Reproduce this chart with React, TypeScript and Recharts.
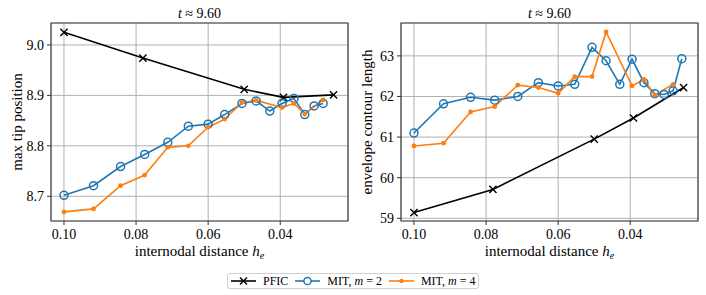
import React from 'react';
import { LineChart, Line, XAxis, YAxis, CartesianGrid, ReferenceArea } from 'recharts';

// ---- data ----
const hPFIC = [0.1, 0.0781, 0.05, 0.0391, 0.0252];
const tipPFIC = [9.025, 8.974, 8.912, 8.896, 8.901];
const lenPFIC = [59.14, 59.71, 60.95, 61.47, 62.22];

const hM2 = [0.1, 0.0918, 0.0843, 0.0776, 0.0712, 0.0655, 0.06, 0.0554, 0.0506, 0.0467, 0.0429, 0.0395, 0.0362, 0.0332, 0.0306, 0.0281, 0.0257];
const tipM2: (number | null)[] = [8.702, 8.721, 8.759, 8.783, 8.807, 8.839, 8.843, 8.862, 8.884, 8.889, 8.869, 8.884, 8.894, 8.862, 8.879, 8.884, null];
const lenM2 = [61.1, 61.82, 61.98, 61.91, 62.0, 62.34, 62.26, 62.3, 63.21, 62.88, 62.3, 62.92, 62.34, 62.07, 62.05, 62.14, 62.93];

const hM4 = [0.1, 0.0918, 0.0843, 0.0776, 0.0712, 0.0655, 0.06, 0.0554, 0.0506, 0.0467, 0.0395, 0.0362, 0.0332, 0.0281];
const tipM4 = [8.669, 8.675, 8.721, 8.742, 8.797, 8.8, 8.837, 8.853, 8.886, 8.89, 8.876, 8.884, 8.863, 8.891];
const lenM4 = [60.78, 60.85, 61.62, 61.75, 62.28, 62.22, 62.08, 62.49, 62.49, 63.59, 62.26, 62.42, 62.03, 62.3];

const xTicks = [0.1, 0.08, 0.06, 0.04];
const xDomain: [number, number] = [0.0212, 0.1036];
const tipTicks = [8.7, 8.8, 8.9, 9.0];
const tipDomain: [number, number] = [8.651, 9.0435];
const lenTicks = [59, 60, 61, 62, 63];
const lenDomain: [number, number] = [58.933, 63.81];

const seriesNames = ['PFIC', 'MIT, m = 2', 'MIT, m = 4'];
const titleText = '9.60';

const FONT = '"Liberation Serif", "DejaVu Serif", serif';
const BLUE = '#1f77b4';
const ORANGE = '#ff7f0e';
const txt: React.CSSProperties = { fontFamily: FONT };

const zip = (xs: number[], ys: (number | null)[]) => xs.map((x, i) => ({ x, y: ys[i] }));

const XDot = (p: any) => {
  const { cx, cy, index } = p;
  if (cx == null || cy == null) return <g key={`x${index}`} />;
  const s = 3.6;
  return (
    <path key={`x${index}`} d={`M${cx - s},${cy - s}L${cx + s},${cy + s}M${cx - s},${cy + s}L${cx + s},${cy - s}`} stroke="#000" strokeWidth={1.4} fill="none" />
  );
};
const ODot = (p: any) => {
  const { cx, cy, index } = p;
  if (cx == null || cy == null) return <g key={`o${index}`} />;
  return <circle key={`o${index}`} cx={cx} cy={cy} r={4} fill="none" stroke={BLUE} strokeWidth={1.5} />;
};
const SDot = (p: any) => {
  const { cx, cy, index } = p;
  if (cx == null || cy == null) return <g key={`s${index}`} />;
  return <circle key={`s${index}`} cx={cx} cy={cy} r={2.4} fill={ORANGE} stroke="none" />;
};

const PLOT_TOP = 23;
const PLOT_BOTTOM = 221;

const TitleLabel = (p: any) => {
  const vb = p.viewBox || { x: 51, width: 297 };
  return (
    <text x={vb.x + vb.width / 2} y={PLOT_TOP - 5} textAnchor="middle" style={{ ...txt, fontSize: 14 }} fill="#000">
      <tspan fontStyle="italic">t</tspan>
      <tspan> ≈ {titleText}</tspan>
    </text>
  );
};

const XLabel = (p: any) => {
  const vb = p.viewBox || { x: 51, width: 297 };
  return (
    <text x={vb.x + vb.width / 2} y={PLOT_BOTTOM + 35} textAnchor="middle" style={{ ...txt, fontSize: 15 }} fill="#000">
      <tspan>internodal distance </tspan>
      <tspan fontStyle="italic">h</tspan>
      <tspan fontStyle="italic" fontSize={10} dy={3}>e</tspan>
    </text>
  );
};

const makeYLabel = (text: string) => () => {
  const cy = (PLOT_TOP + PLOT_BOTTOM) / 2;
  const x = 22;
  return (
    <text x={x} y={cy} textAnchor="middle" style={{ ...txt, fontSize: 15 }} fill="#000" transform={`rotate(-90, ${x}, ${cy})`}>
      {text}
    </text>
  );
};

const XTick = (p: any) => {
  const { x, y, payload } = p;
  return (
    <text x={x} y={y + 10} textAnchor="middle" style={{ ...txt, fontSize: 14 }} fill="#000">
      {Number(payload.value).toFixed(2)}
    </text>
  );
};

const makeYTick = (digits: number) => (p: any) => {
  const { x, y, payload } = p;
  return (
    <text x={x} y={y + 5} textAnchor="end" style={{ ...txt, fontSize: 14 }} fill="#000">
      {Number(payload.value).toFixed(digits)}
    </text>
  );
};

function Panel(props: {
  left: number;
  yDomain: [number, number];
  yTicks: number[];
  yDigits: number;
  yLabel: string;
  pfic: number[];
  m2: (number | null)[];
  m4: number[];
}) {
  const { left, yDomain, yTicks, yDigits, yLabel, pfic, m2, m4 } = props;
  const YL = makeYLabel(yLabel);
  const YT = makeYTick(yDigits);
  return (
    <div style={{ position: 'absolute', left, top: 0 }}>
      <LineChart width={353} height={270} margin={{ top: PLOT_TOP, right: 5, bottom: 19, left: 0 }}>
        <CartesianGrid stroke="#b0b0b0" strokeWidth={1} />
        <XAxis
          type="number"
          dataKey="x"
          domain={xDomain}
          ticks={xTicks}
          reversed
          allowDataOverflow
          height={30}
          axisLine={false}
          tickLine={{ stroke: '#333' }}
          tickSize={4}
          tickMargin={4}
          tick={<XTick />}
          label={<XLabel />}
        />
        <YAxis
          type="number"
          dataKey="y"
          domain={yDomain}
          ticks={yTicks}
          allowDataOverflow
          width={51}
          axisLine={false}
          tickLine={{ stroke: '#333' }}
          tickSize={4}
          tickMargin={3}
          tick={<YT />}
          label={<YL />}
        />
        <Line data={zip(hPFIC, pfic)} dataKey="y" name={seriesNames[0]} stroke="#000" strokeWidth={1.6} dot={XDot} activeDot={false} isAnimationActive={false} />
        <Line data={zip(hM2, m2)} dataKey="y" name={seriesNames[1]} stroke={BLUE} strokeWidth={1.6} dot={ODot} activeDot={false} isAnimationActive={false} />
        <Line data={zip(hM4, m4)} dataKey="y" name={seriesNames[2]} stroke={ORANGE} strokeWidth={1.6} dot={SDot} activeDot={false} isAnimationActive={false} />
        <ReferenceArea
          x1={xDomain[0]}
          x2={xDomain[1]}
          y1={yDomain[0]}
          y2={yDomain[1]}
          fill="none"
          fillOpacity={0}
          stroke="#444"
          strokeWidth={1.2}
          ifOverflow="visible"
          label={<TitleLabel />}
        />
      </LineChart>
    </div>
  );
}

const LegendItem = ({ kind, label }: { kind: number; label: React.ReactNode }) => {
  const color = kind === 0 ? '#000' : kind === 1 ? BLUE : ORANGE;
  return (
    <span style={{ display: 'inline-flex', alignItems: 'center', marginRight: 7 }}>
      <svg width={25} height={10} style={{ marginRight: 7 }}>
        <line x1={0} y1={5} x2={25} y2={5} stroke={color} strokeWidth={1.6} />
        {kind === 0 && <path d="M9,1.5L16,8.5M9,8.5L16,1.5" stroke="#000" strokeWidth={1.4} />}
        {kind === 1 && <circle cx={12.5} cy={5} r={3.6} fill="#fff" stroke={BLUE} strokeWidth={1.5} />}
        {kind === 2 && <circle cx={12.5} cy={5} r={2.2} fill={ORANGE} />}
      </svg>
      <span>{label}</span>
    </span>
  );
};

export default function App() {
  return (
    <div style={{ position: 'absolute', left: 0, top: 0, width: 706, height: 295, background: '#fff', fontFamily: FONT }}>
      <Panel left={0} yDomain={tipDomain} yTicks={tipTicks} yDigits={1} yLabel="max tip position" pfic={tipPFIC} m2={tipM2} m4={tipM4} />
      <Panel left={350} yDomain={lenDomain} yTicks={lenTicks} yDigits={0} yLabel="envelope contour length" pfic={lenPFIC} m2={lenM2} m4={lenM4} />
      <div
        style={{
          position: 'absolute',
          left: 227,
          top: 273,
          width: 252,
          height: 16,
          boxSizing: 'border-box',
          border: '1px solid #d0d0d0',
          borderRadius: 3,
          display: 'flex',
          alignItems: 'center',
          paddingLeft: 3,
          fontSize: 12,
          whiteSpace: 'nowrap',
          color: '#000',
        }}
      >
        <LegendItem kind={0} label={seriesNames[0]} />
        <LegendItem kind={1} label={<>MIT, <i>m</i> = 2</>} />
        <LegendItem kind={2} label={<>MIT, <i>m</i> = 4</>} />
      </div>
    </div>
  );
}
